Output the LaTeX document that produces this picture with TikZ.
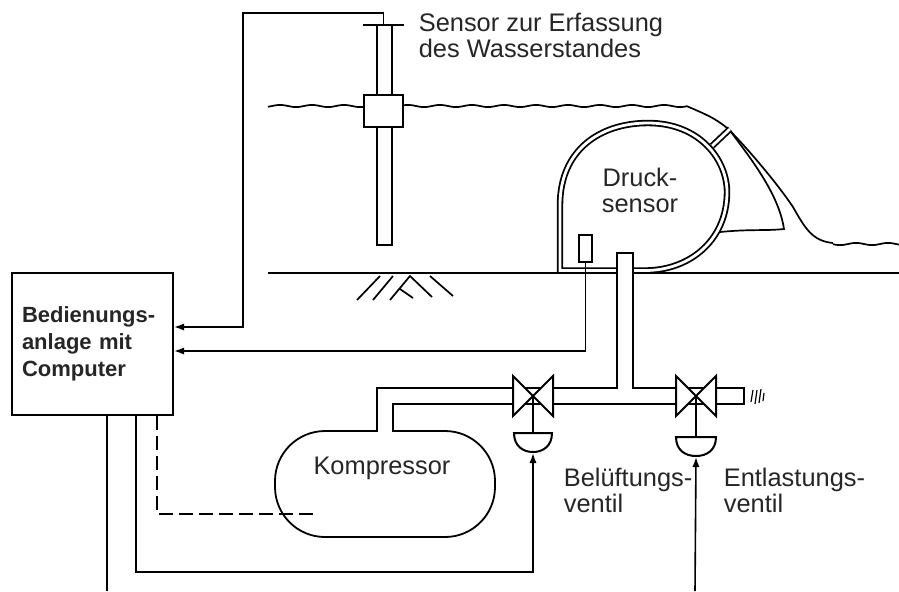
\documentclass[tikz,border=0pt]{standalone}
\usepackage{fontspec}
\setmainfont{Liberation Sans}
\usetikzlibrary{arrows.meta}

\begin{document}
\begin{tikzpicture}[x=0.5pt,y=-0.5pt,>={Latex[length=5pt,width=3.6pt]},line width=0.85pt,
  sig/.style={line width=0.8pt},
  lbl/.style={font=\fontsize{12.7}{13}\selectfont,align=left,inner sep=0pt,text=black!85},
  box/.style={draw,line width=1pt,minimum width=80.5pt,minimum height=71pt,text width=70.5pt,
    inner sep=5pt,align=left,font=\bfseries\fontsize{11}{13.5}\selectfont,text=black!85},
  wall/.style={line width=0.9pt,double,double distance=1.4pt}]
  \useasboundingbox (0,0) rectangle (899,591);

  % ground, soil and water surface
  \draw (268,273) -- (899,273);
  \draw (357,300) -- (380,276) (373,300) -- (393,276) (390,300) -- (410,276) -- (432,297)
        (430,276) -- (453,296) (400,289) -- (413,298);
  \draw plot[domain=268:687,samples=120] (\x,{106+1.1*sin(11.25*\x)})
        .. controls (705,114) and (715,118) .. (727,128)
        .. controls (740,140) and (775,180) .. (793,207)
        .. controls (805,228) and (812,241) .. (833,243);
  \draw plot[domain=833:899,samples=30] (\x,{244+1.1*sin(11.25*\x)});

  % dam body with strap and apron
  \draw (731,132) .. controls (752,160) and (779,195) .. (784,229)
        .. controls (765,231) and (750,229) .. (720,232);
  \draw[wall] (712,146) -- (730,129);
  \draw[wall] (560,270.5) -- (560,205) .. controls (560,150) and (600,123) .. (648,123)
        .. controls (700,123) and (727,160) .. (727,192)
        .. controls (727,240) and (690,270.5) .. (645,270.5) -- cycle;
  \node[lbl,align=center] (dtxt) at (640,190) {Druck-\\sensor};
  \node[draw,line width=0.9pt,minimum width=6.5pt,minimum height=13.5pt,inner sep=0pt] (ps) at (585.5,248.5) {};

  % water level probe
  \draw[fill=white] (377,25) rectangle (392,245);
  \draw (363,25) -- (404,25);
  \draw[fill=white,line width=1pt] (364,95) rectangle (403,127);
  \coordinate (lvl) at (383.5,25);
  \node[lbl,anchor=west] (stxt) at (418,35) {Sensor zur Erfassung\\des Wasserstandes};

  % compressor
  \draw[line width=0.9pt,fill=white,rounded corners=25pt] (275,431) rectangle (495,537);
  \node[lbl] (ktxt) at (382,468) {Kompressor};

  % air pipes
  \draw[line width=9pt] (385,431) -- (385,396) -- (745,396);
  \draw[line width=9pt] (624.5,252) -- (624.5,396);
  \draw[white,line width=7pt] (385,434) -- (385,396) -- (743,396);
  \draw[white,line width=7pt] (624.5,254) -- (624.5,396);
  \draw[line width=0.6pt] (751,402) -- (753,390) (755,404) -- (757,390)
        (759,403) -- (761,389) (763,401) -- (764,393);

  % valves
  \coordinate (va) at (533,396);
  \coordinate (vb) at (696,396);
  \draw[fill=white,line width=1pt] (513,376) -- (513,416) -- (553,376) -- (553,416) -- cycle;
  \draw[fill=white,line width=1pt] (676,376) -- (676,416) -- (716,376) -- (716,416) -- cycle;
  \draw[line width=1pt] (va) -- (533,433);
  \draw[line width=1pt] (vb) -- (696,437);
  \draw[fill=white,line width=1pt] (514,433) -- (552,433) .. controls (552,446) and (543,452) .. (533,452)
        .. controls (523,452) and (514,446) .. (514,433) -- cycle;
  \draw[fill=white,line width=1pt] (676,437) -- (716,437) .. controls (716,450) and (707,456) .. (696,456)
        .. controls (685,456) and (676,450) .. (676,437) -- cycle;
  \coordinate (acta) at (533,453);
  \coordinate (actb) at (696,457);
  \node[lbl,anchor=west] (btxt) at (563,490.5) {Belüftungs-\\ventil};
  \node[lbl,anchor=west] (etxt) at (723,490.5) {Entlastungs-\\ventil};

  % control unit and signal lines
  \node[box] (ctrl) at (92.5,344) {Bedienungs-\\anlage mit\\Computer};
  \coordinate (k1) at (243,13);
  \coordinate (k2) at (243,327);
  \coordinate (k3) at (585.5,351);
  \coordinate (c1) at (136,572);
  \coordinate (c2) at (107,591);
  \coordinate (c3) at (695,591);
  \coordinate (c4) at (157,514);
  \coordinate (c5) at (318,514);
  \draw[sig,->] (lvl) |- (k1) -- (k2) -- (ctrl.east |- k2);
  \draw[sig,->] (ps.south) -- (k3) -- (ctrl.east |- k3);
  \draw[sig,->] (ctrl.south -| c1) -- (c1) -| (acta);
  \draw[sig] (ctrl.south -| c2) -- (c2);
  \draw[sig,->] (c3) -- (actb);
  \draw[sig,dash pattern=on 7pt off 3pt] (ctrl.south -| c4) -- (c4) -- (c5);
\end{tikzpicture}
\end{document}
